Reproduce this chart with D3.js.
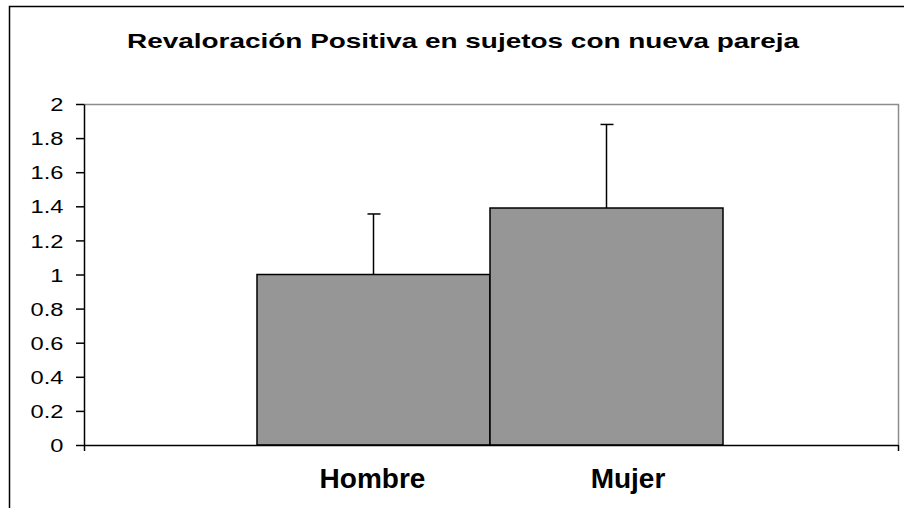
<!DOCTYPE html>
<html>
<head>
<meta charset="utf-8">
<script src="https://cdn.jsdelivr.net/npm/d3@7"></script>
<style>
  body { margin: 0; background: #fff; }
  svg { display: block; font-family: "Liberation Sans", Arial, sans-serif; }
</style>
</head>
<body>
<svg width="904" height="508"></svg>
<script>
const TITLE = 'Revaloración Positiva en sujetos con nueva pareja';
const categories = ['Hombre', 'Mujer'];
const means = [1.0, 1.39];
const errors = [0.355, 0.49];
const yTicks = [0, 0.2, 0.4, 0.6, 0.8, 1, 1.2, 1.4, 1.6, 1.8, 2];

const WIDTH = 904;
const HEIGHT = 508;
const PLOT = {left: 84, right: 898, top: 104, bottom: 445};
const BAR_FILL = '#969696';
const STRETCH = 1.28; // tick labels look horizontally stretched in the original

var svg = d3.select('svg');

// outer frame (only left and top edges are visible)
svg.append('rect')
    .attr('x', 9.5).attr('y', 6.5)
    .attr('width', WIDTH).attr('height', HEIGHT)
    .attr('fill', 'none')
    .attr('stroke', '#000')
    .attr('stroke-width', 1.5);

svg.append('text')
    .attr('x', 127).attr('y', 47.5)
    .attr('textLength', 672)
    .attr('lengthAdjust', 'spacingAndGlyphs')
    .attr('font-size', 21)
    .attr('font-weight', 'bold')
    .text(TITLE);

var y = d3.scaleLinear()
    .domain([0, 2])
    .range([PLOT.bottom, PLOT.top]);

// bars sit side by side in the middle of the single category
var x = d3.scaleBand()
    .domain(categories)
    .range([257, 723])
    .padding(0);

var labelX = d3.scalePoint()
    .domain(categories)
    .range([372.5, 628]);

/* plot area border */
svg.append('path')
    .attr('d', 'M' + PLOT.left + ',' + (PLOT.top + 0.5) + 'H' + (PLOT.right + 0.5) + 'V' + PLOT.bottom)
    .attr('fill', 'none')
    .attr('stroke', '#8c8c8c')
    .attr('stroke-width', 1.5);

/* bars */
svg.selectAll('.bar')
    .data(categories)
    .enter().append('rect')
    .attr('class', 'bar')
    .attr('x', d => x(d))
    .attr('y', (d, i) => y(means[i]))
    .attr('width', x.bandwidth())
    .attr('height', (d, i) => y(0) - y(means[i]))
    .attr('fill', BAR_FILL)
    .attr('stroke', '#000')
    .attr('stroke-width', 1.5);

/* error bars */
var err = svg.selectAll('.err')
    .data(categories)
    .enter().append('g')
    .attr('class', 'err')
    .attr('stroke', '#000')
    .attr('stroke-width', 1.5);

err.append('line')
    .attr('x1', d => x(d) + x.bandwidth() / 2)
    .attr('x2', d => x(d) + x.bandwidth() / 2)
    .attr('y1', (d, i) => y(means[i]))
    .attr('y2', (d, i) => y(means[i] + errors[i]));

err.append('line')
    .attr('x1', d => x(d) + x.bandwidth() / 2 - 6)
    .attr('x2', d => x(d) + x.bandwidth() / 2 + 7)
    .attr('y1', (d, i) => y(means[i] + errors[i]))
    .attr('y2', (d, i) => y(means[i] + errors[i]));

/* Y axis */
var yAxis = svg.append('g')
    .attr('transform', 'translate(' + PLOT.left + ',0)')
    .call(d3.axisLeft(y)
        .tickValues(yTicks)
        .tickSize(8)
        .tickSizeOuter(0)
        .tickFormat(d => String(+d.toFixed(1))));

yAxis.select('.domain').attr('stroke-width', 1.5);
yAxis.selectAll('.tick line').attr('stroke-width', 1.5);
yAxis.selectAll('.tick text')
    .attr('font-size', 18.5)
    .attr('font-family', '"Liberation Sans", Arial, sans-serif')
    .attr('fill', '#000')
    .attr('x', -20.5 / STRETCH)
    .attr('dy', '0.36em')
    .attr('transform', 'scale(' + STRETCH + ',1)');

/* X axis: ticks only at the category edges */
var xEdge = d3.scaleLinear().domain([0, 1]).range([PLOT.left, PLOT.right]);
var xAxis = svg.append('g')
    .attr('transform', 'translate(0,' + PLOT.bottom + ')')
    .call(d3.axisBottom(xEdge)
        .tickValues([0, 1])
        .tickSize(6)
        .tickSizeOuter(0)
        .tickFormat(''));

xAxis.select('.domain').attr('stroke-width', 1.5);
xAxis.selectAll('.tick line').attr('stroke-width', 1.5);

/* category labels */
svg.selectAll('.cat')
    .data(categories)
    .enter().append('text')
    .attr('class', 'cat')
    .attr('x', d => labelX(d))
    .attr('y', 488)
    .attr('text-anchor', 'middle')
    .attr('font-size', 28)
    .attr('font-weight', 'bold')
    .text(d => d);
</script>
</body>
</html>
